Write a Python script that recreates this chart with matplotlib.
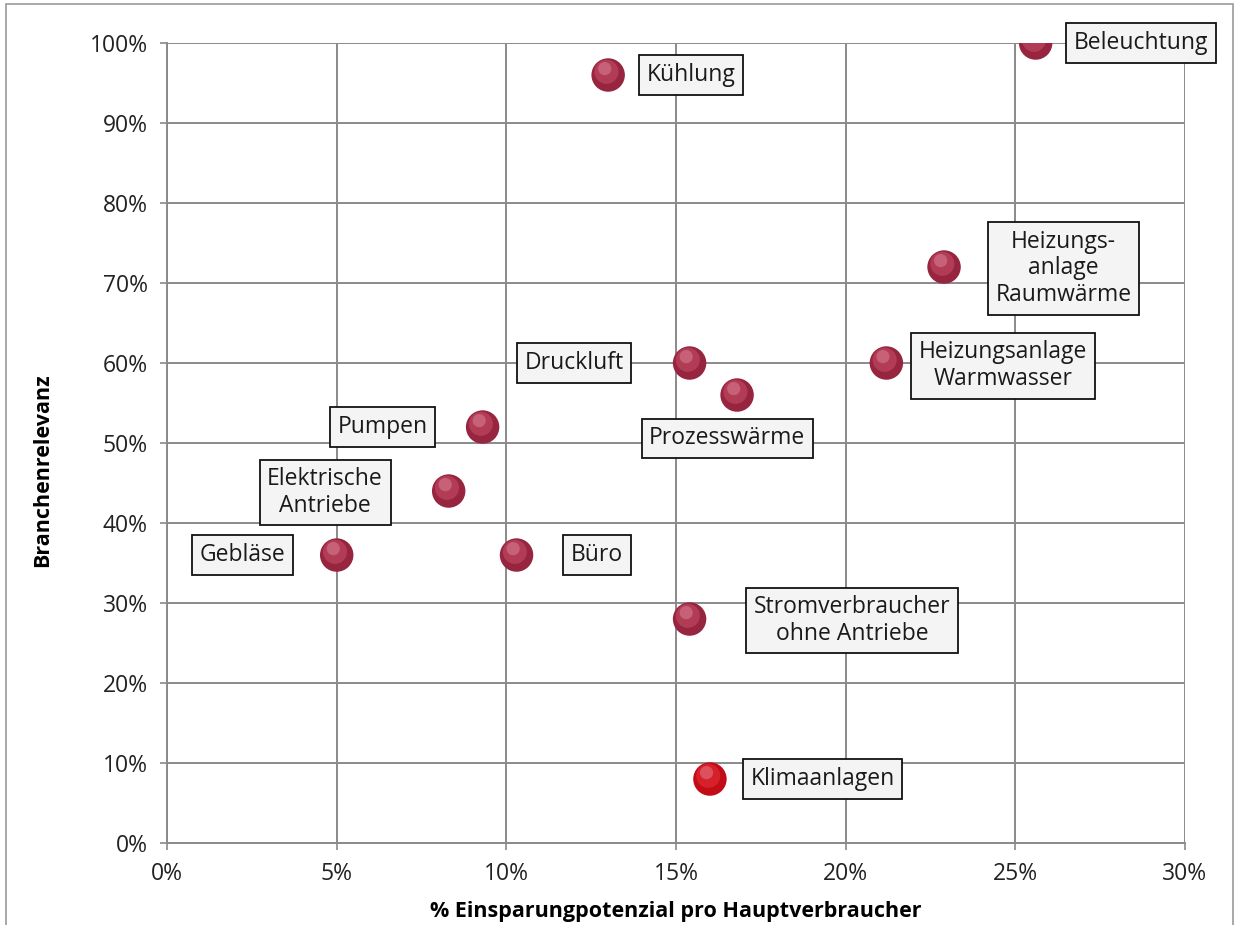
import matplotlib.pyplot as plt
from matplotlib.patches import Rectangle
from matplotlib.ticker import PercentFormatter

# Daten: Einsparpotenzial (%) und Branchenrelevanz (%)
labels = ['Beleuchtung', 'Kühlung', 'Heizungs-\nanlage\nRaumwärme',
          'Heizungsanlage\nWarmwasser', 'Druckluft', 'Prozesswärme',
          'Pumpen', 'Elektrische\nAntriebe', 'Gebläse', 'Büro',
          'Stromverbraucher\nohne Antriebe', 'Klimaanlagen']
einsparung = [25.6, 13.0, 22.9, 21.2, 15.4, 16.8, 9.3, 8.3, 5.0, 10.3, 15.4, 16.0]
relevanz = [100, 96, 72, 60, 60, 56, 52, 44, 36, 36, 28, 8]

# Versatz der Beschriftungen in Punkten (dx, dy)
offsets = [(76, 0), (60, 0), (86, -1), (84, -2), (-83, 0), (-7, -31),
           (-72, 0), (-89, -1), (-68, 0), (58, 0), (117, -1), (81, 0)]

xticks = [0, 5, 10, 15, 20, 25, 30]
yticks = [0, 10, 20, 30, 40, 50, 60, 70, 80, 90, 100]

plt.rcParams['font.family'] = ['Open Sans', 'DejaVu Sans']

fig = plt.figure(figsize=(12.43, 9.25), dpi=100)
ax = fig.add_axes([0.1344, 0.0886, 0.8189, 0.8649])

# Rahmen um das Diagramm
fig.patches.append(Rectangle((0.005, -0.05), 0.987, 1.046, transform=fig.transFigure,
                             fill=False, edgecolor='#9a9a9a', linewidth=1.2))

ax.set_xlim(0, 30)
ax.set_ylim(0, 100)
ax.set_xticks(xticks)
ax.set_yticks(yticks)
ax.xaxis.set_major_formatter(PercentFormatter(decimals=0))
ax.yaxis.set_major_formatter(PercentFormatter(decimals=0))
ax.grid(True, color='#8a8a8a', linewidth=1.4)
ax.set_axisbelow(True)
for side in ['top', 'right']:
    ax.spines[side].set_visible(False)
for side in ['left', 'bottom']:
    ax.spines[side].set_color('#8a8a8a')
    ax.spines[side].set_linewidth(1.4)
ax.tick_params(axis='both', labelsize=16.5, colors='#8a8a8a', labelcolor='#222222',
               length=5, width=1.2)
ax.tick_params(axis='x', pad=9)
ax.tick_params(axis='y', pad=9)

ax.set_xlabel('% Einsparungpotenzial pro Hauptverbraucher', fontsize=15.5,
              fontweight='bold')
ax.set_ylabel('Branchenrelevanz', fontsize=15.5, fontweight='bold')
ax.xaxis.set_label_coords(0.5, -0.072)
ax.yaxis.set_label_coords(-0.112, 0.466)

# Kugeln: dunkle Basis plus sanfter Glanz
colors = ['#97253f'] * 11 + ['#c20c18']
highlight = ['#c9506a'] * 11 + ['#e8323a']
ax.scatter(einsparung, relevanz, s=580, c=colors, edgecolors='none', zorder=3)
ax.scatter([x - 0.05 for x in einsparung], [y + 0.4 for y in relevanz], s=300,
           c=highlight, edgecolors='none', zorder=4, alpha=0.55)
ax.scatter([x - 0.1 for x in einsparung], [y + 0.8 for y in relevanz], s=90,
           c='#e89aac', edgecolors='none', zorder=5, alpha=0.4)

for lab, x, y, off in zip(labels, einsparung, relevanz, offsets):
    ax.annotate(lab, (x, y), xytext=off, textcoords='offset points',
                ha='center', va='center', multialignment='center',
                fontsize=16.5, color='#1a1a1a', linespacing=1.15, zorder=6,
                bbox=dict(boxstyle='square,pad=0.33', facecolor='#f4f4f4',
                          edgecolor='#111111', linewidth=1.3),
                annotation_clip=False)

plt.savefig('out.png', dpi=100)
